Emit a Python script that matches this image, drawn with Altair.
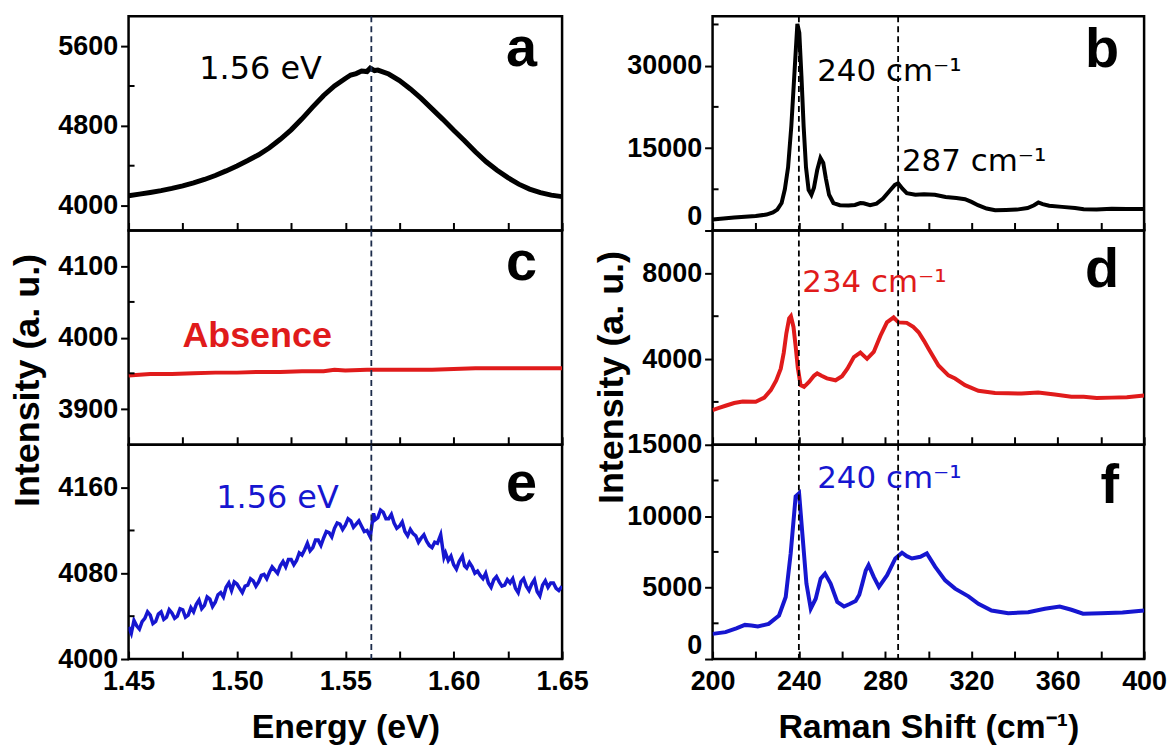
import altair as alt
import pandas as pd

# ---------------- data ----------------
# (a) PL, black
energy_a = [1.450, 1.455, 1.460, 1.465, 1.470, 1.475, 1.480, 1.485, 1.490, 1.495,
            1.500, 1.505, 1.510, 1.515, 1.520, 1.525, 1.530, 1.535, 1.540, 1.545,
            1.550, 1.5525, 1.555, 1.5575, 1.560, 1.5615, 1.5635, 1.565, 1.570, 1.575,
            1.580, 1.585, 1.590, 1.595, 1.600, 1.605, 1.610, 1.615, 1.620, 1.625,
            1.630, 1.635, 1.640, 1.645, 1.650]
intensity_a = [4098, 4115, 4132, 4150, 4172, 4197, 4228, 4262, 4302, 4348,
               4398, 4452, 4510, 4580, 4665, 4760, 4870, 4990, 5105, 5200,
               5275, 5310, 5325, 5350, 5345, 5380, 5355, 5360, 5320, 5255,
               5170, 5075, 4970, 4865, 4755, 4650, 4540, 4440, 4355, 4280,
               4215, 4165, 4130, 4105, 4090]

# (c) PL, red (absence)
energy_c = [1.45, 1.46, 1.47, 1.48, 1.49, 1.50, 1.51, 1.52, 1.53, 1.54, 1.545,
            1.55, 1.56, 1.57, 1.58, 1.59, 1.60, 1.61, 1.62, 1.63, 1.64, 1.65]
intensity_c = [3947, 3949, 3949, 3950, 3951, 3951, 3952, 3952, 3953, 3953, 3955,
               3954, 3955, 3955, 3955, 3955, 3956, 3957, 3957, 3957, 3957, 3957]

# (e) PL, blue (noisy) as (energy, intensity) pairs
pl_e_pairs = [
    (1.4500, 4030), (1.45125, 4024), (1.4525, 4036), (1.45375, 4031), (1.4550, 4028),
    (1.45625, 4035), (1.4575, 4038), (1.45875, 4044), (1.4600, 4041), (1.46125, 4033),
    (1.4625, 4035), (1.46375, 4042), (1.4650, 4044), (1.46625, 4037), (1.4675, 4039),
    (1.46875, 4046), (1.4700, 4043), (1.47125, 4038), (1.4725, 4040), (1.47375, 4047),
    (1.4750, 4046), (1.47625, 4039), (1.4775, 4041), (1.47875, 4048), (1.4800, 4044),
    (1.48125, 4051), (1.4825, 4055), (1.48375, 4047), (1.4850, 4050), (1.48625, 4058),
    (1.4875, 4056), (1.48875, 4049), (1.4900, 4053), (1.49125, 4060), (1.4925, 4062),
    (1.49375, 4058), (1.4950, 4067), (1.49625, 4071), (1.4975, 4064), (1.49875, 4072),
    (1.5000, 4070), (1.50125, 4066), (1.5025, 4062), (1.50375, 4068), (1.5050, 4069),
    (1.50625, 4075), (1.5075, 4073), (1.50875, 4068), (1.5100, 4072), (1.51125, 4078),
    (1.5125, 4079), (1.51375, 4075), (1.5150, 4081), (1.51625, 4086), (1.5175, 4083),
    (1.51875, 4080), (1.5200, 4087), (1.52125, 4091), (1.5225, 4086), (1.52375, 4093),
    (1.5250, 4093), (1.52625, 4088), (1.5275, 4092), (1.52875, 4099), (1.5300, 4097),
    (1.53125, 4102), (1.5325, 4108), (1.53375, 4101), (1.5350, 4104), (1.53625, 4111),
    (1.5375, 4111), (1.53875, 4106), (1.5400, 4113), (1.54125, 4119), (1.5425, 4118),
    (1.54375, 4114), (1.5450, 4122), (1.54625, 4127), (1.5475, 4126), (1.54875, 4121),
    (1.5500, 4125), (1.55125, 4131), (1.5525, 4129), (1.55375, 4123), (1.5550, 4126),
    (1.55625, 4129), (1.5575, 4124), (1.55875, 4119), (1.5600, 4120), (1.5615, 4114),
    (1.5630, 4136), (1.56375, 4130), (1.5650, 4132), (1.56625, 4139), (1.5675, 4137),
    (1.56875, 4131), (1.5700, 4131), (1.57125, 4135), (1.5725, 4127), (1.57375, 4122),
    (1.5750, 4124), (1.57625, 4128), (1.5775, 4119), (1.57875, 4115), (1.5800, 4121),
    (1.58125, 4117), (1.5825, 4115), (1.58375, 4109), (1.5850, 4113), (1.58625, 4116),
    (1.5875, 4110), (1.58875, 4106), (1.5900, 4104), (1.59125, 4109), (1.5925, 4108),
    (1.5940, 4116), (1.5955, 4095), (1.59625, 4099), (1.5975, 4092), (1.59875, 4096),
    (1.6000, 4088), (1.60125, 4084), (1.6025, 4091), (1.6040, 4096), (1.6050, 4087),
    (1.6060, 4085), (1.60725, 4090), (1.6085, 4086), (1.60975, 4080), (1.6110, 4082),
    (1.61225, 4078), (1.6135, 4075), (1.61475, 4080), (1.6160, 4071), (1.61725, 4067),
    (1.6185, 4074), (1.61975, 4077), (1.6210, 4072), (1.62225, 4068), (1.6235, 4069),
    (1.62475, 4074), (1.6260, 4071), (1.62725, 4075), (1.6285, 4066), (1.62975, 4062),
    (1.6310, 4072), (1.63225, 4075), (1.6335, 4068), (1.63475, 4064), (1.6360, 4070),
    (1.63725, 4074), (1.6385, 4063), (1.63975, 4059), (1.6410, 4069), (1.64225, 4073),
    (1.6435, 4067), (1.64475, 4071), (1.6460, 4071), (1.64725, 4066), (1.6485, 4064),
    (1.6500, 4068),
]
energy_e = [p[0] for p in pl_e_pairs]
intensity_e = [p[1] for p in pl_e_pairs]

# (b) Raman, black
shift_b = [200, 205, 210, 215, 220, 225, 228, 230, 232, 233.5, 235, 236.5, 238, 239.3,
           240.2, 241.2, 242.2, 243.3, 244.5, 245.8, 247, 248.5, 250, 251.3, 252.5, 254,
           256, 259, 263, 266, 268.5, 270, 273, 276, 279, 282, 284.5, 286, 288, 290, 294,
           298, 303, 308, 313, 317, 320, 323, 327, 331, 336, 341, 346, 349, 351, 353, 356,
           362, 368, 372, 378, 385, 392, 400]
intensity_b = [2020, 2200, 2350, 2500, 2650, 2900, 3300, 3800, 5000, 7500, 11500, 19000,
               29000, 37600, 36000, 28000, 19000, 11500, 7400, 6500, 7800, 11000, 13200,
               12300, 9500, 6500, 5000, 4600, 4550, 4650, 5000, 4950, 4600, 4900, 5800,
               7200, 8300, 8600, 7600, 6800, 6500, 6600, 6500, 6100, 5900, 5700, 5200, 4600,
               4000, 3700, 3750, 3800, 4100, 4600, 5100, 4800, 4500, 4300, 4100, 3850, 3800,
               3950, 3900, 3900]

# (d) Raman, red
shift_d = [200, 203, 206, 210, 214, 220, 224, 227, 229.5, 231.6, 233, 234.2, 235.5, 236.3,
           237.5, 238.5, 239.5, 240.8, 242.4, 244.7, 247, 248.5, 250.5, 253, 257, 260,
           262.5, 265.5, 268.5, 271.6, 274.7, 277.8, 280.8, 283.9, 286.2, 290, 293, 295.5,
           298, 300.1, 304.7, 309.3, 312.4, 317, 323.2, 330.9, 337, 343.2, 350.9, 358.6,
           366.3, 372, 378, 385, 392, 400]
intensity_d = [1620, 1720, 1820, 1950, 2020, 2010, 2200, 2550, 3000, 3550, 4300, 5200,
               5900, 6000, 5500, 4600, 3600, 2780, 2700, 2930, 3220, 3330, 3220, 3100,
               3010, 3200, 3550, 4090, 4300, 4010, 4330, 5090, 5710, 5940, 5710, 5690,
               5500, 5250, 4850, 4480, 3700, 3240, 3090, 2780, 2520, 2420, 2400, 2390,
               2440, 2350, 2240, 2240, 2180, 2200, 2220, 2300]

# (f) Raman, blue
shift_f = [200, 206, 211, 215, 218, 221, 226, 230.8, 233.9, 236.2, 238.5, 240.1, 241.6,
           243.5, 245.5, 247.8, 250.1, 252.1, 254.7, 257.8, 260.9, 263.5, 266.3, 268,
           269.4, 271, 272.3, 274.7, 277.1, 280.9, 284.7, 287.8, 290, 292.4, 296.3, 299.3,
           303.2, 307.8, 312.4, 318.6, 323.2, 329.3, 337, 346.3, 354, 360.9, 366.3, 371.7,
           380, 390, 400]
intensity_f = [1760, 1880, 2150, 2390, 2350, 2280, 2460, 3050, 4340, 7390, 11380, 11600,
               8800, 5280, 3520, 4220, 5630, 5980, 5280, 3990, 3680, 3850, 4060, 4500,
               5280, 6200, 6570, 5750, 5050, 5870, 7040, 7440, 7200, 7040, 7160, 7390,
               6450, 5510, 4930, 4390, 3870, 3400, 3210, 3280, 3520, 3680, 3450, 3170,
               3200, 3250, 3400]

peak_energy = [1.562]
raman_lines = [240, 286]

energy_ticks = [1.45, 1.475, 1.50, 1.525, 1.55, 1.575, 1.60, 1.625, 1.65]
shift_ticks = [200, 220, 240, 260, 280, 300, 320, 340, 360, 380, 400]

a_ticks, a_minor = [4000, 4800, 5600], [4400, 5200]
c_ticks, c_minor = [3900, 4000, 4100], [3950, 4050]
e_ticks, e_minor = [4000, 4080, 4160], [4040, 4120]
b_ticks, b_minor = [0, 15000, 30000], [7500, 22500, 37500]
d_ticks, d_minor = [4000, 8000], [2000, 6000]
f_ticks, f_minor = [0, 5000, 10000, 15000], [2500, 7500, 12500]

# ---------------- styling ----------------
BLACK = "#000000"
RED = "#e01b1b"
BLUE = "#1616d0"
TICK_FONT = "Liberation Sans Narrow, Arial Narrow, Liberation Sans, Arial"
TITLE_FONT = "Liberation Sans, Arial"
NOTE_FONT = "DejaVu Sans, Verdana"

ENERGY_EXPR = "abs(round(datum.value*1000) % 50) < 1 ? format(datum.value, '.2f') : ''"
SHIFT_EXPR = "datum.value % 40 == 0 ? format(datum.value, 'd') : ''"
ZERO_RAISED = {"condition": {"test": "datum.value == 0", "value": "bottom"},
               "value": "middle"}


def note(text, px, py, color, size=32, font=NOTE_FONT, weight="normal", align="left"):
    return alt.Chart(pd.DataFrame({"t": [text]})).mark_text(
        align=align, baseline="alphabetic", font=font, fontSize=size,
        fontWeight=weight, color=color
    ).encode(x=alt.value(px), y=alt.value(py), text="t:N")


def panel(xv, yv, color, xdom, ydom, yticks, yminor, xticks, xexpr, vlines, vcolor,
          w, h, notes, bottom=False, xtitle=None, ytitle=None, ytitle_y=None, lw=4,
          raise_zero=False):
    xs = alt.Scale(domain=xdom, nice=False, zero=False)
    ys = alt.Scale(domain=ydom, nice=False, zero=False)
    if bottom:
        xaxis = alt.Axis(values=xticks, labelExpr=xexpr, title=xtitle, tickSize=8,
                         offset=-8, labelPadding=10, titlePadding=16, domain=False,
                         labelFlush=False)
    else:
        xaxis = alt.Axis(values=xticks, labels=False, title=None, tickSize=8,
                         offset=-8, domain=False)
    ykw = dict(values=yticks, format="d", tickSize=8, labelPadding=3, domain=False)
    if raise_zero:
        ykw.update(labelBaseline=ZERO_RAISED)
    if ytitle:
        ykw.update(title=ytitle, titlePadding=11, titleFontSize=36)
        if ytitle_y is not None:
            ykw.update(titleY=ytitle_y)
    else:
        ykw.update(title=None)
    yaxis = alt.Axis(**ykw)

    df = pd.DataFrame({"x": xv, "y": yv})
    line = alt.Chart(df).mark_line(color=color, strokeWidth=lw, clip=True).encode(
        x=alt.X("x:Q", scale=xs, axis=xaxis),
        y=alt.Y("y:Q", scale=ys, axis=yaxis),
    )
    vr = alt.Chart(pd.DataFrame({"x": vlines})).mark_rule(
        color=vcolor, strokeWidth=1.8, strokeDash=[6, 4]
    ).encode(x=alt.X("x:Q", scale=xs, axis=xaxis))
    minor = alt.Chart(pd.DataFrame({"y": yminor})).mark_rule(
        color=BLACK, strokeWidth=2
    ).encode(y=alt.Y("y:Q", scale=ys, axis=yaxis), x=alt.value(0), x2=alt.value(6))
    return alt.layer(line, vr, minor, *notes).properties(width=w, height=h)


LW, RW, H = 435, 433, 215

pa = panel(energy_a, intensity_a, BLACK, [1.45, 1.65], [3750, 5900], a_ticks, a_minor,
           energy_ticks, ENERGY_EXPR, peak_energy, "#1c2b4a", LW, H,
           [note("1.56 eV", 71, 63, BLACK),
            note("a", LW - 25, 50, BLACK, 56, TITLE_FONT, "bold", "right")], lw=5)
pc = panel(energy_c, intensity_c, RED, [1.45, 1.65], [3850, 4150], c_ticks, c_minor,
           energy_ticks, ENERGY_EXPR, peak_energy, "#1c2b4a", LW, H,
           [note("Absence", 54, 117, RED, 36, TITLE_FONT, "bold"),
            note("c", LW - 25, 50, BLACK, 56, TITLE_FONT, "bold", "right")],
           ytitle="Intensity (a. u.)", ytitle_y=150)
pe = panel(energy_e, intensity_e, BLUE, [1.45, 1.65], [4000, 4200], e_ticks, e_minor,
           energy_ticks, ENERGY_EXPR, peak_energy, "#1c2b4a", LW, H,
           [note("1.56 eV", 88, 63, BLUE),
            note("e", LW - 25, 56, BLACK, 56, TITLE_FONT, "bold", "right")],
           bottom=True, xtitle="Energy (eV)", lw=3.5)

pb = panel(shift_b, intensity_b, BLACK, [200, 400], [0, 39000], b_ticks, b_minor,
           shift_ticks, SHIFT_EXPR, raman_lines, BLACK, RW, H,
           [note("240 cm⁻¹", 105, 65, BLACK, 31),
            note("287 cm⁻¹", 190, 155, BLACK, 31),
            note("b", RW - 25, 51, BLACK, 56, TITLE_FONT, "bold", "right")],
           raise_zero=True)
pd_ = panel(shift_d, intensity_d, RED, [200, 400], [0, 10000], d_ticks, d_minor,
            shift_ticks, SHIFT_EXPR, raman_lines, BLACK, RW, H,
            [note("234 cm⁻¹", 90, 62, RED, 31),
             note("d", RW - 25, 57, BLACK, 56, TITLE_FONT, "bold", "right")],
            ytitle="Intensity (a. u.)", ytitle_y=147)
pf = panel(shift_f, intensity_f, BLUE, [200, 400], [0, 15000], f_ticks, f_minor,
           shift_ticks, SHIFT_EXPR, raman_lines, BLACK, RW, H,
           [note("240 cm⁻¹", 105, 43, BLUE, 31),
            note("f", RW - 25, 58, BLACK, 56, TITLE_FONT, "bold", "right")],
           bottom=True, xtitle="Raman Shift (cm⁻¹)", raise_zero=True)

chart = alt.concat(
    pa, pb, pc, pd_, pe, pf, columns=2, bounds="flush",
    spacing={"row": 0, "column": 151}
).properties(
    padding={"left": 8, "top": 12, "right": 5, "bottom": 2}
).configure_view(
    stroke=BLACK, strokeWidth=2.5
).configure_axis(
    labelFont=TICK_FONT, labelFontSize=27, labelFontWeight="bold", labelColor=BLACK,
    titleFont=TITLE_FONT, titleFontSize=34, titleFontWeight="bold", titleColor=BLACK,
    tickColor=BLACK, tickWidth=2, grid=False
)

chart.save("out.html", embed_options={"renderer": "svg", "actions": False})
